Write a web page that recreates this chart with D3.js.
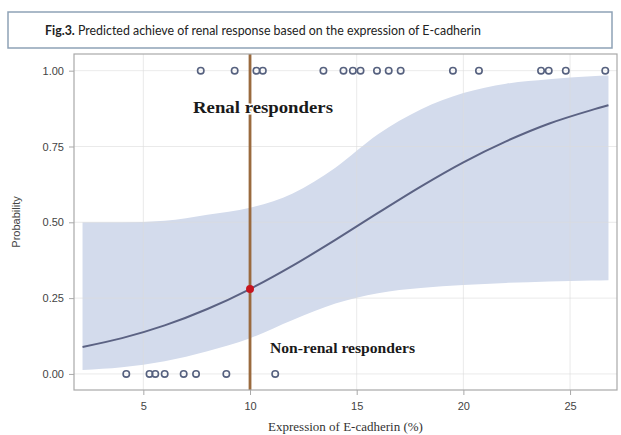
<!DOCTYPE html>
<html>
<head>
<meta charset="utf-8">
<script src="https://cdn.jsdelivr.net/npm/d3@7"></script>
<style>
  body { margin: 0; background: #fff; }
  svg { display: block; }
</style>
</head>
<body>
<svg id="chart"></svg>
<script>
// observed outcomes (expression of E-cadherin, %)
const responders = [7.69, 9.28, 10.3, 10.6, 13.44, 14.38, 14.82, 15.18, 15.95, 16.5, 17.06, 19.51, 20.73, 23.64, 24.0, 24.8, 26.65];
const nonResponders = [4.2, 5.29, 5.56, 6.0, 6.89, 7.47, 8.89, 11.18];

// fitted probability with confidence band
const fitX     = [2.15, 4, 6, 8, 10, 12, 14, 16, 18, 20, 22, 24, 26, 26.8];
const fitP     = [0.089, 0.118, 0.160, 0.214, 0.280, 0.357, 0.442, 0.531, 0.618, 0.698, 0.767, 0.825, 0.870, 0.886];
const lowerP   = [0.013, 0.022, 0.042, 0.075, 0.118, 0.178, 0.232, 0.266, 0.283, 0.293, 0.300, 0.305, 0.308, 0.309];
const upperP   = [0.500, 0.500, 0.505, 0.525, 0.548, 0.595, 0.680, 0.790, 0.872, 0.926, 0.957, 0.972, 0.982, 0.984];

const xTicks = [5, 10, 15, 20, 25];
const yTicks = [0, 0.25, 0.5, 0.75, 1];
const cutoff = 10;
const cutoffP = 0.28;

const width = 621, height = 435;
const svg = d3.select("#chart").attr("width", width).attr("height", height);

const plotL = 74, plotR = 617, plotT = 54, plotB = 390;
const x = d3.scaleLinear().domain([1.75, 27.2]).range([plotL, plotR]);
const y = d3.scaleLinear().domain([-0.053, 1.055]).range([plotB, plotT]);

// title box
svg.append("rect")
	.attr("x", 8).attr("y", 12).attr("width", 604).attr("height", 36)
	.attr("fill", "#fff").attr("stroke", "#8ea2b6").attr("stroke-width", 1.5);
const title = svg.append("text")
	.attr("x", 45).attr("y", 35)
	.attr("font-family", "Lato, 'Open Sans', sans-serif")
	.attr("font-size", 13.5).attr("fill", "#222")
	.attr("textLength", 436).attr("lengthAdjust", "spacingAndGlyphs");
title.append("tspan").attr("font-weight", "bold").text("Fig.3.");
title.append("tspan").text(" Predicted achieve of renal response based on the expression of E-cadherin");

// confidence band
const pts = fitX.map((v, i) => ({x: v, p: fitP[i], lo: lowerP[i], hi: upperP[i]}));
svg.append("path")
	.datum(pts)
	.attr("fill", "#d3dbec")
	.attr("d", d3.area().curve(d3.curveMonotoneX)
		.x(d => x(d.x)).y0(d => y(d.lo)).y1(d => y(d.hi)));

// grid
const g = svg.append("g");
g.selectAll(".gx").data(xTicks).enter().append("line")
	.attr("x1", d => x(d)).attr("x2", d => x(d))
	.attr("y1", plotT).attr("y2", plotB)
	.attr("stroke", "#dcdcdc").attr("stroke-opacity", 0.6);
g.selectAll(".gy").data(yTicks).enter().append("line")
	.attr("x1", plotL).attr("x2", plotR)
	.attr("y1", d => y(d)).attr("y2", d => y(d))
	.attr("stroke", "#dcdcdc").attr("stroke-opacity", 0.6);

// fitted curve
svg.append("path")
	.datum(pts)
	.attr("fill", "none").attr("stroke", "#5b6283").attr("stroke-width", 2)
	.attr("d", d3.line().curve(d3.curveMonotoneX).x(d => x(d.x)).y(d => y(d.p)));

// observed points
svg.selectAll(".r").data(responders).enter().append("circle")
	.attr("cx", d => x(d)).attr("cy", y(1)).attr("r", 3.2)
	.attr("fill", "none").attr("stroke", "#56617f").attr("stroke-width", 1.6);
svg.selectAll(".n").data(nonResponders).enter().append("circle")
	.attr("cx", d => x(d)).attr("cy", y(0)).attr("r", 3.2)
	.attr("fill", "none").attr("stroke", "#56617f").attr("stroke-width", 1.6);

// cutoff line
svg.append("line")
	.attr("x1", x(cutoff)).attr("x2", x(cutoff))
	.attr("y1", plotT).attr("y2", plotB)
	.attr("stroke", "#9a6a3e").attr("stroke-width", 2.8);
svg.append("circle")
	.attr("cx", x(cutoff)).attr("cy", y(cutoffP)).attr("r", 4)
	.attr("fill", "#c8141e");

// labels in plot
svg.append("text")
	.attr("x", 193).attr("y", 113)
	.attr("font-family", "'Liberation Serif', 'DejaVu Serif', serif")
	.attr("font-weight", "bold").attr("font-size", 17.5).attr("fill", "#1a1a1a")
	.attr("textLength", 140).attr("lengthAdjust", "spacingAndGlyphs")
	.attr("stroke", "#fff").attr("stroke-width", 3).attr("paint-order", "stroke")
	.text("Renal responders");
svg.append("text")
	.attr("x", 270).attr("y", 353)
	.attr("font-family", "'Liberation Serif', 'DejaVu Serif', serif")
	.attr("font-weight", "bold").attr("font-size", 15).attr("fill", "#1a1a1a")
	.attr("textLength", 145).attr("lengthAdjust", "spacingAndGlyphs")
	.text("Non-renal responders");

// frame
svg.append("rect")
	.attr("x", plotL).attr("y", plotT).attr("width", plotR - plotL).attr("height", plotB - plotT)
	.attr("fill", "none").attr("stroke", "#a9a9a9").attr("stroke-width", 1.2);

// axes
const xAxis = svg.append("g").attr("transform", `translate(0,${plotB})`)
	.call(d3.axisBottom(x).tickValues(xTicks).tickSize(5).tickPadding(7).tickFormat(d3.format("d")));
const yAxis = svg.append("g").attr("transform", `translate(${plotL},0)`)
	.call(d3.axisLeft(y).tickValues(yTicks).tickSize(5).tickPadding(5).tickFormat(d3.format(".2f")));
[xAxis, yAxis].forEach(a => {
	a.select(".domain").remove();
	a.selectAll(".tick line").attr("stroke", "#a9a9a9");
	a.selectAll(".tick text")
		.attr("font-family", "'Liberation Sans', Arial, sans-serif")
		.attr("font-size", 11).attr("fill", "#444");
});

// axis titles
svg.append("text")
	.attr("x", (plotL + plotR) / 2).attr("y", 431)
	.attr("text-anchor", "middle")
	.attr("font-family", "'Liberation Serif', serif")
	.attr("font-size", 13).attr("fill", "#333")
	.text("Expression of E-cadherin (%)");
svg.append("text")
	.attr("transform", `translate(20,${(plotT + plotB) / 2}) rotate(-90)`)
	.attr("text-anchor", "middle")
	.attr("font-family", "'Liberation Sans', Arial, sans-serif")
	.attr("font-size", 11).attr("fill", "#444")
	.text("Probability");
</script>
</body>
</html>
